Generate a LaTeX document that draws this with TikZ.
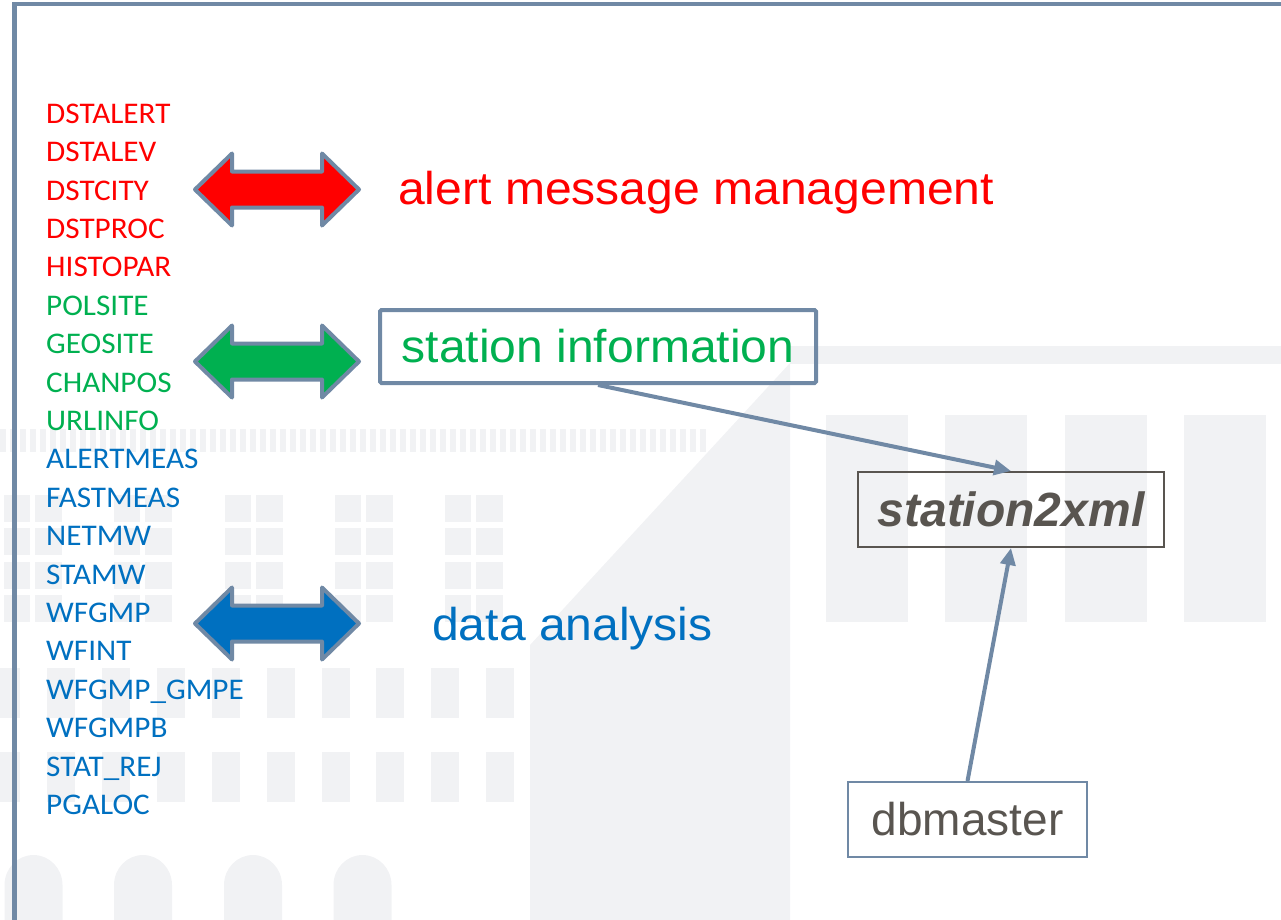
\documentclass[tikz,border=0pt]{standalone}
\usepackage{fontspec}
\setmainfont{Liberation Sans}
\newfontfamily\calibri[FakeStretch=1.04]{Carlito}
\newfontfamily\arialw[FakeStretch=1.045]{Liberation Sans}
\usetikzlibrary{arrows.meta,calc}
\definecolor{slate}{RGB}{112,137,165}
\definecolor{wm}{RGB}{241,242,244}
\definecolor{ared}{RGB}{255,0,0}
\definecolor{agreen}{RGB}{0,176,80}
\definecolor{ablue}{RGB}{0,112,192}
\definecolor{dgray}{RGB}{89,85,80}
\newcommand\mydblarrow[3]{\filldraw[dbl, fill=#3] (#1-82,#2) -- (#1-45,#2-36) -- (#1-45,#2-18) -- (#1+45,#2-18) -- (#1+45,#2-36) -- (#1+82,#2) -- (#1+45,#2+36) -- (#1+45,#2+18) -- (#1-45,#2+18) -- (#1-45,#2+36) -- cycle;}
\begin{document}
\begin{tikzpicture}[x=1pt,y=-1pt,
  listitem/.style={anchor=base west, inner sep=0pt, font=\calibri\fontsize{30}{36}\selectfont},
  bigtext/.style={anchor=base west, inner sep=0pt, font=\arialw\fontsize{46}{55}\selectfont},
  dbl/.style={draw=slate, line width=4pt, line join=round},
  conn/.style={draw=slate, line width=4pt, -{Triangle[length=17pt,width=15pt]}},
  wmark/.style={fill=wm, draw=none}]
\useasboundingbox (0,0) rectangle (1281,919);
\clip (0,0) rectangle (1281,919);
% watermark
\foreach \i in {0,...,70} \fill[wmark] (\i*10,429) rectangle ++(6,23);
\foreach \g in {0,...,4} \foreach \r in {0,...,3} {
  \fill[wmark] (4+110.3*\g,495+33.3*\r) rectangle ++(26,27);
  \fill[wmark] (35+110.3*\g,495+33.3*\r) rectangle ++(27,27);}
\foreach \k in {-1,...,8} {
  \fill[wmark] (47+54.9*\k,668) rectangle ++(28,50);
  \fill[wmark] (47+54.9*\k,752) rectangle ++(28,50);}
\foreach \c in {33.5,143,253,362.5}
  \fill[wmark] (\c-29,925) -- (\c-29,885) .. controls (\c-29,868.4) and (\c-16,855) .. (\c,855) .. controls (\c+16,855) and (\c+29,868.4) .. (\c+29,885) -- (\c+29,925) -- cycle;
\fill[wmark] (530,925) -- (530,645) -- (790,363) -- (790,925) -- cycle;
\fill[wmark] (790,346) rectangle (1290,364);
\foreach \x in {826,945,1065,1184} \fill[wmark] (\x,415) rectangle ++(82,207);
% frame
\draw[slate, line width=4.5pt] (14.5,930) -- (14.5,4) -- (1290,4);
% list
\foreach [count=\i from 0] \t/\c in {DSTALERT/ared,DSTALEV/ared,DSTCITY/ared,DSTPROC/ared,HISTOPAR/ared,POLSITE/agreen,GEOSITE/agreen,CHANPOS/agreen,URLINFO/agreen,ALERTMEAS/ablue,FASTMEAS/ablue,NETMW/ablue,STAMW/ablue,WFGMP/ablue,WFINT/ablue,WFGMP\_GMPE/ablue,WFGMPB/ablue,STAT\_REJ/ablue,PGALOC/ablue}
  \node[listitem, text=\c] (L\i) at (46,123.3+38.4*\i) {\t};
% double arrows
\mydblarrow{277}{189.5}{ared}
\mydblarrow{277}{361.5}{agreen}
\mydblarrow{277}{623.5}{ablue}
% labels
\node[bigtext, text=ared] (amm) at (398,204.3) {alert message management};
\node[bigtext, text=ablue] (da) at (432,640) {data analysis};
\node[draw=slate, line width=4pt, rounded corners=1.5pt, minimum width=436pt, minimum height=73pt, inner sep=0pt, text=agreen, font=\arialw\fontsize{46}{55}\selectfont] (si) at (598,346.5) {station information\hspace{12pt}};
\node[draw=dgray, line width=2pt, minimum width=306pt, minimum height=75pt, inner sep=0pt, text=dgray, font=\bfseries\itshape\fontsize{48}{58}\selectfont] (s2x) at (1011,509.5) {station2xml};
\node[draw=slate, line width=2pt, minimum width=239pt, minimum height=75pt, inner sep=0pt, text=dgray, font=\fontsize{46}{55}\selectfont] (db) at (967.5,819.5) {dbmaster};
% connectors
\draw[conn] (si.south) -- (s2x.north);
\draw[conn] (db.north) -- (s2x.south);
\end{tikzpicture}
\end{document}
